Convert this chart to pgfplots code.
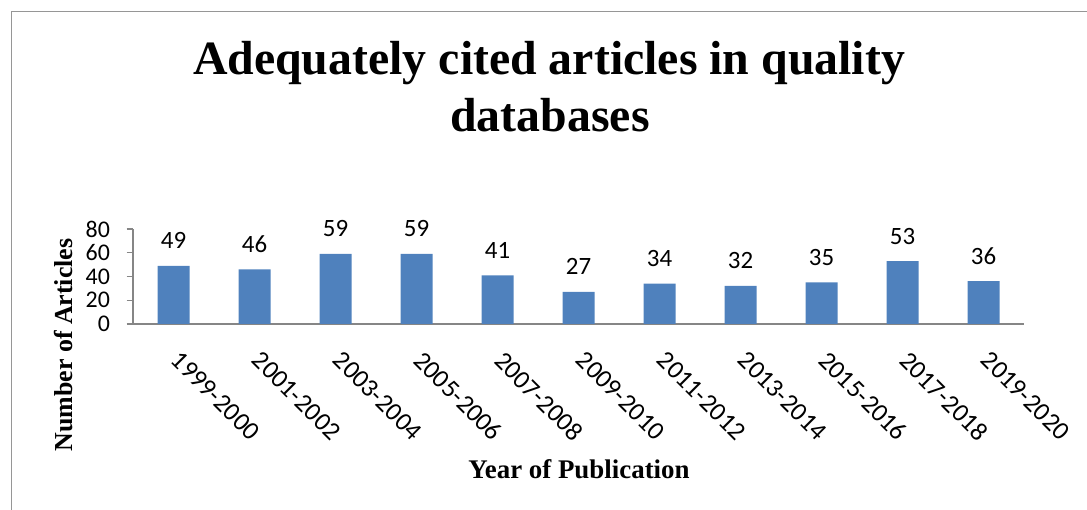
\documentclass[border=0pt]{standalone}
\usepackage{pgfplots}
\pgfplotsset{compat=1.18}
\usepackage{fontspec}
\setmainfont{Carlito}
\newfontfamily\timesf{Liberation Serif}
\definecolor{barblue}{RGB}{79,129,189}
\definecolor{axgray}{RGB}{134,134,134}
\definecolor{framegray}{RGB}{150,150,150}
\begin{document}
\begin{tikzpicture}[x=1bp,y=1bp]
\path[use as bounding box] (0,0) rectangle (1087,510);
\draw[framegray,line width=1.5bp] (11.5,0) -- (11.5,498.5) -- (1087,498.5);
\node[anchor=base,font={\timesf\bfseries\fontsize{48}{52}\selectfont}] at (549,435) {Adequately cited articles in quality};
\node[anchor=base,font={\timesf\bfseries\fontsize{48}{52}\selectfont}] at (550,378) {databases};
\node[anchor=base,font={\timesf\bfseries\fontsize{27}{30}\selectfont}] at (579,31) {Year of Publication};
\node[anchor=base,rotate=90,font={\timesf\bfseries\fontsize{26}{29}\selectfont}] at (72,165) {Number of Articles};
\begin{axis}[
  at={(133bp,186bp)}, anchor=south west,
  scale only axis, width=891bp, height=95bp,
  xmin=-0.5, xmax=10.5, ymin=0, ymax=80,
  axis x line*=bottom, axis y line*=left,
  axis line style={axgray,line width=1.2bp},
  every tick/.style={axgray,line width=1.2bp},
  ytick={0,20,40,60,80},
  ytick align=outside, major tick length=6.5bp,
  xtick={0,...,10},
  xticklabels={1999-2000,2001-2002,2003-2004,2005-2006,2007-2008,2009-2010,2011-2012,2013-2014,2015-2016,2017-2018,2019-2020},
  minor xtick={-0.5,0.5,...,10.5},
  xtick style={draw=none},
  minor x tick style={axgray,line width=1.2bp},
  xtick align=outside, minor tick length=8bp,
  /pgf/number format/assume math mode=true,
  yticklabel style={font=\fontsize{24}{26}\selectfont, xshift=-13bp},
  xticklabel style={font=\fontsize{26}{28}\selectfont, rotate=-45, anchor=north west, xshift=16bp, yshift=-4.5bp},
  ybar, bar width=32bp,
  nodes near coords,
  nodes near coords style={font=\fontsize{25}{27}\selectfont, anchor=base, yshift=17bp, black},
  clip=false,
]
\addplot[fill=barblue, draw=none] coordinates {(0,49) (1,46) (2,59) (3,59) (4,41) (5,27) (6,34) (7,32) (8,35) (9,53) (10,36)};
\end{axis}
\end{tikzpicture}
\end{document}
